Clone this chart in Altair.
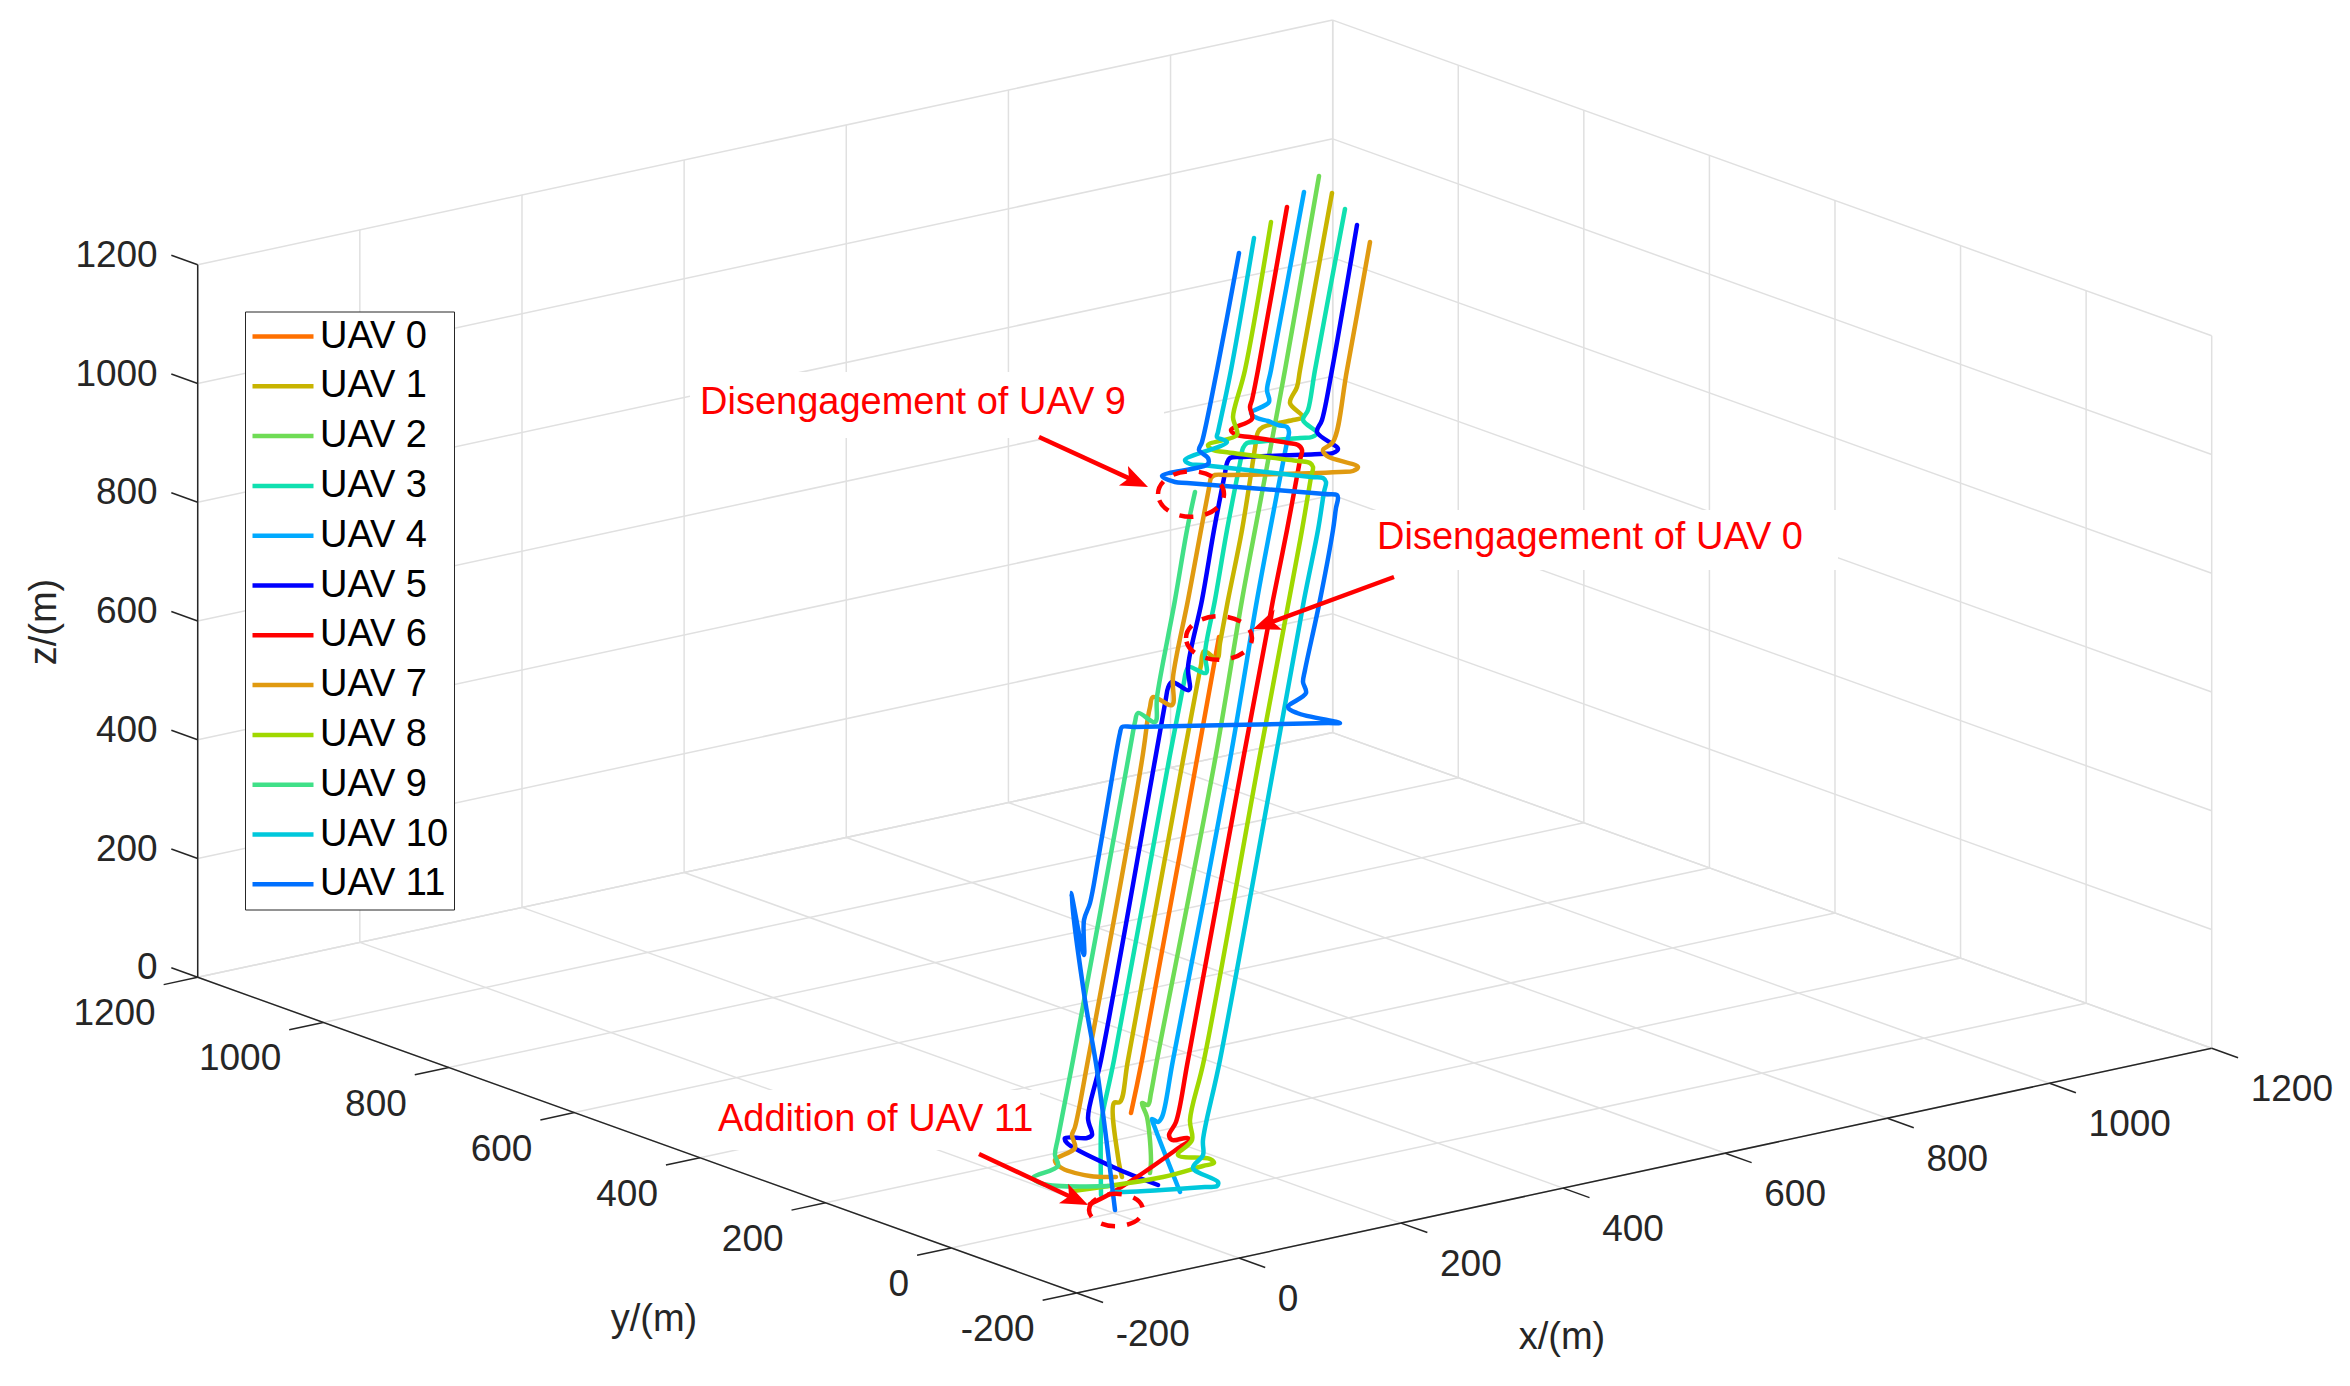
import math
import altair as alt
import pandas as pd

FONT = "Liberation Sans"
INK = "#262626"
GRID = "#E0E0E0"
RED = "#FF0000"

NAMES = [f"UAV {i}" for i in range(12)]
COLORS = ["#FF7000", "#C8B400", "#6FDC55", "#10E0B0", "#00AAFF", "#0000FF",
          "#FF0000", "#E09A10", "#A0D800", "#40E088", "#00C8DC", "#0070FF"]

# Trajectories, in projected drawing-plane units (u, v)
UAV_0 = [(1219,637),(1142,1060),(1131,1113)]
UAV_1 = [(1332,193),(1300,370),(1297,387),(1290,403),(1303,417),(1293,420),(1263,427),(1258,432),(1256,442),(1242,530),(1228,600),(1220,643),(1217,659),(1204,651),(1201,665),(1199,675),(1183,760),(1128,1060),(1120,1102),(1114,1103),(1118,1157),(1122,1177)]
UAV_2 = [(1319,176),(1285,370),(1255,530),(1242,600),(1215,760),(1157,1060),(1151,1093),(1148,1105),(1142,1103),(1147,1117),(1151,1160),(1150,1173)]
UAV_3 = [(1345,209),(1315,370),(1308,410),(1303,420),(1317,433),(1312,437),(1300,438),(1255,442),(1247,443),(1243,448),(1241,458),(1227,530),(1215,600),(1205,653),(1206,673),(1189,667),(1186,672),(1184,682),(1169,760),(1114,1060),(1102,1117),(1101,1127),(1101,1195)]
UAV_4 = [(1304,192),(1271,370),(1267,390),(1269,402),(1251,413),(1257,418),(1268,421),(1278,425),(1287,427),(1289,432),(1287,442),(1270,530),(1257,600),(1230,760),(1173,1060),(1162,1117),(1158,1122),(1152,1119),(1155,1128),(1180,1192)]
UAV_5 = [(1357,225),(1332,370),(1322,420),(1317,432),(1338,449),(1333,453),(1320,454),(1243,457),(1230,458),(1227,463),(1225,473),(1214,530),(1202,600),(1188,667),(1189,690),(1172,682),(1168,688),(1166,698),(1155,760),(1101,1060),(1088,1118),(1092,1135),(1087,1138),(1065,1138),(1067,1143),(1113,1167),(1158,1185)]
UAV_6 = [(1287,207),(1258,370),(1252,400),(1250,407),(1252,419),(1231,430),(1237,435),(1250,437),(1288,443),(1298,445),(1302,450),(1300,460),(1287,530),(1273,600),(1243,760),(1188,1060),(1176,1122),(1169,1135),(1172,1140),(1187,1138),(1190,1140),(1180,1147),(1143,1173),(1108,1195),(1090,1204)]
UAV_7 = [(1370,242),(1347,370),(1333,442),(1323,450),(1327,456),(1358,467),(1353,471),(1340,472),(1228,475),(1215,475),(1211,478),(1209,488),(1201,530),(1188,600),(1173,677),(1172,705),(1153,697),(1150,707),(1148,717),(1142,760),(1088,1060),(1075,1127),(1072,1135),(1075,1148),(1055,1160),(1060,1167),(1090,1176),(1116,1177)]
UAV_8 = [(1271,222),(1245,370),(1233,417),(1235,425),(1237,435),(1208,445),(1213,450),(1225,452),(1298,461),(1310,463),(1313,467),(1311,477),(1302,530),(1289,600),(1259,760),(1204,1060),(1190,1120),(1192,1140),(1178,1155),(1210,1159),(1214,1163),(1203,1166),(1163,1177),(1073,1191)]
UAV_9 = [(1195,492),(1187,530),(1175,600),(1157,697),(1155,722),(1138,713),(1135,722),(1133,732),(1128,760),(1073,1060),(1058,1138),(1055,1155),(1058,1166),(1033,1178),(1043,1184),(1108,1186)]
UAV_10 = [(1254,238),(1231,370),(1218,432),(1217,437),(1227,442),(1185,460),(1190,464),(1202,465),(1311,477),(1323,478),(1326,482),(1324,492),(1318,530),(1304,600),(1275,760),(1220,1060),(1203,1140),(1203,1155),(1193,1168),(1218,1182),(1217,1186),(1205,1187),(1124,1192),(1112,1192)]
UAV_11 = [(1239,253),(1217,370),(1202,442),(1199,450),(1208,458),(1208,464),(1162,476),(1175,482),(1187,483),(1325,494),(1337,495),(1338,498),(1336,508),(1333,530),(1320,600),(1305,670),(1303,682),(1306,693),(1288,707),(1297,713),(1340,723),(1328,723),(1134,727),(1122,727),(1120,733),(1118,743),(1115,760),(1098,860),(1090,903),(1084,920),(1084,955),(1071,893),(1085,1000),(1097,1070),(1115,1210)]
PATHS = [UAV_0, UAV_1, UAV_2, UAV_3, UAV_4, UAV_5, UAV_6, UAV_7, UAV_8, UAV_9, UAV_10, UAV_11]

X_TICKS = [-200, 0, 200, 400, 600, 800, 1000, 1200]
Y_TICKS = [-200, 0, 200, 400, 600, 800, 1000, 1200]
Z_TICKS = [0, 200, 400, 600, 800, 1000, 1200]

NOTE_TEXT = ["Disengagement of UAV 9", "Disengagement of UAV 0", "Addition of UAV 11"]
NOTE_U = [700, 1377, 718]
NOTE_V = [403, 538, 1120]
NOTE_BOX = [(690, 372, 1164, 438), (1365, 510, 1838, 570), (705, 1090, 1040, 1150)]
ARROW_FROM = [(1039, 437), (1394, 577), (979, 1154)]
ARROW_TIP = [(1148, 487), (1253, 629), (1088, 1205)]
RINGS = [(1191, 494, 33, 0.69), (1219, 638, 33, 0.66), (1116, 1210, 27, 0.6)]

# Orthographic projection of the 3-D box onto the drawing plane
F = (1076.7, 1293.0)
EX = ((2211.7 - 1076.7) / 1400, (1048.3 - 1293.0) / 1400)
EY = ((197.7 - 1076.7) / 1400, (977.3 - 1293.0) / 1400)
EZ = -712.5 / 1200


def proj(x, y, z):
    return (F[0] + (x + 200) * EX[0] + (y + 200) * EY[0],
            F[1] + (x + 200) * EX[1] + (y + 200) * EY[1] + z * EZ)


XS = alt.Scale(domain=[8, 2342])
YS = alt.Scale(domain=[1378, 8])
U = alt.X("u:Q", scale=XS, axis=None)
V = alt.Y("v:Q", scale=YS, axis=None)


def segs(pairs):
    rows = []
    for k, (a, b) in enumerate(pairs):
        ua, va = proj(*a)
        ub, vb = proj(*b)
        rows.append(dict(u=ua, v=va, u2=ub, v2=vb, k=k))
    return pd.DataFrame(rows)


def rules(pairs, color, width):
    return alt.Chart(segs(pairs)).mark_rule(color=color, strokeWidth=width).encode(
        x=U, y=V, x2="u2:Q", y2="v2:Q")


grid_pairs = []
for x in X_TICKS:
    grid_pairs.append(((x, -200, 0), (x, 1200, 0)))
    grid_pairs.append(((x, 1200, 0), (x, 1200, 1200)))
for y in Y_TICKS:
    grid_pairs.append(((-200, y, 0), (1200, y, 0)))
    grid_pairs.append(((1200, y, 0), (1200, y, 1200)))
for z in Z_TICKS:
    grid_pairs.append(((-200, 1200, z), (1200, 1200, z)))
    grid_pairs.append(((1200, 1200, z), (1200, -200, z)))

axis_pairs = [((-200, -200, 0), (1200, -200, 0)),
              ((-200, -200, 0), (-200, 1200, 0)),
              ((-200, 1200, 0), (-200, 1200, 1200))]
TL = 0.21 * 200
for x in X_TICKS:
    axis_pairs.append(((x, -200, 0), (x, -200 - TL, 0)))
for y in Y_TICKS:
    axis_pairs.append(((-200, y, 0), (-200 - TL, y, 0)))
for z in Z_TICKS:
    axis_pairs.append(((-200, 1200, z), (-200, 1200 + TL, z)))


def labels(rows, align):
    return alt.Chart(pd.DataFrame(rows)).mark_text(
        font=FONT, fontSize=37, color=INK, align=align, baseline="middle"
    ).encode(x=U, y=V, text="t:N")


x_lab = [dict(u=proj(x, -200, 0)[0] + 39, v=proj(x, -200, 0)[1] + 42, t=str(x)) for x in X_TICKS]
y_lab = [dict(u=proj(-200, y, 0)[0] - 42, v=proj(-200, y, 0)[1] + 37, t=str(y)) for y in Y_TICKS]
z_lab = [dict(u=proj(-200, 1200, z)[0] - 40, v=proj(-200, 1200, z)[1] - 9, t=str(z)) for z in Z_TICKS]

titles = alt.Chart(pd.DataFrame([dict(u=654, v=1320, t="y/(m)"), dict(u=1562, v=1338, t="x/(m)")])).mark_text(
    font=FONT, fontSize=38, color=INK, align="center", baseline="middle").encode(x=U, y=V, text="t:N")
z_title = alt.Chart(pd.DataFrame([dict(u=45, v=622, t="z/(m)")])).mark_text(
    font=FONT, fontSize=38, color=INK, align="center", baseline="middle", angle=270).encode(x=U, y=V, text="t:N")

boxes = alt.Chart(pd.DataFrame([dict(u=a, v=b, u2=c, v2=d) for a, b, c, d in NOTE_BOX])).mark_rect(
    color="white").encode(x=U, y=V, x2="u2:Q", y2="v2:Q")

rows = []
for name, path in zip(NAMES, PATHS):
    for i, (u, v) in enumerate(path):
        rows.append(dict(name=name, i=i, u=u, v=v))
traj = alt.Chart(pd.DataFrame(rows)).mark_line(
    strokeWidth=4.5, strokeJoin="round", strokeCap="round", interpolate="catmull-rom"
).encode(
    x=U, y=V, order=alt.Order("i:Q"),
    color=alt.Color("name:N", scale=alt.Scale(domain=NAMES, range=COLORS),
                    sort=NAMES,
                    legend=alt.Legend(title=None, orient="none", legendX=237, legendY=303.5,
                                      symbolType="stroke", symbolSize=3721, symbolStrokeWidth=4.5,
                                      labelFont=FONT, labelFontSize=38, labelColor="black",
                                      labelOffset=4, labelLimit=300, rowPadding=9.8, clipHeight=40,
                                      padding=5, strokeColor=INK, fillColor="white")))

HEAD = 27.0
HEAD_SHAPE = "M0,-1 L0.8,1 L0,0.55 L-0.8,1 Z"
shaft, head = [], []
for k, ((u0, v0), (u1, v1)) in enumerate(zip(ARROW_FROM, ARROW_TIP)):
    L = math.hypot(u1 - u0, v1 - v0)
    du, dv = (u1 - u0) / L, (v1 - v0) / L
    shaft.append(dict(u=u0, v=v0, u2=u1 - du * HEAD * 0.7, v2=v1 - dv * HEAD * 0.7))
    head.append(dict(u=u1 - du * HEAD / 2, v=v1 - dv * HEAD / 2,
                     a=math.degrees(math.atan2(du, -dv)) % 360))
arrow_lines = alt.Chart(pd.DataFrame(shaft)).mark_rule(color=RED, strokeWidth=4.5).encode(
    x=U, y=V, x2="u2:Q", y2="v2:Q")
arrow_heads = alt.Chart(pd.DataFrame(head)).mark_point(
    shape=HEAD_SHAPE, filled=True, color=RED, size=HEAD * HEAD, opacity=1
).encode(x=U, y=V, angle=alt.Angle("a:Q", scale=None))

ring_layers = []
for cu, cv, a, ratio in RINGS:
    shape = f"M-1,0 A1,{ratio} 0 1,1 1,0 A1,{ratio} 0 1,1 -1,0 Z"
    ring_layers.append(
        alt.Chart(pd.DataFrame([dict(u=cu, v=cv)])).mark_point(
            shape=shape, filled=False, color=RED, strokeWidth=4.5, strokeDash=[14, 12],
            size=(2 * a) ** 2, opacity=1).encode(x=U, y=V))

notes = alt.Chart(pd.DataFrame(dict(u=NOTE_U, v=NOTE_V, t=NOTE_TEXT))).mark_text(
    font=FONT, fontSize=38, color=RED, align="left", baseline="middle").encode(x=U, y=V, text="t:N")

chart = alt.layer(
    rules(grid_pairs, GRID, 1.5),
    boxes,
    rules(axis_pairs, INK, 1.5),
    labels(x_lab, "left"), labels(y_lab, "right"), labels(z_lab, "right"),
    titles, z_title,
    traj,
    *ring_layers,
    arrow_lines, arrow_heads,
    notes,
).properties(width=2334, height=1370, padding=0, background="white").configure_view(stroke=None)

chart.save("out.html", embed_options={"renderer": "svg", "actions": False})
